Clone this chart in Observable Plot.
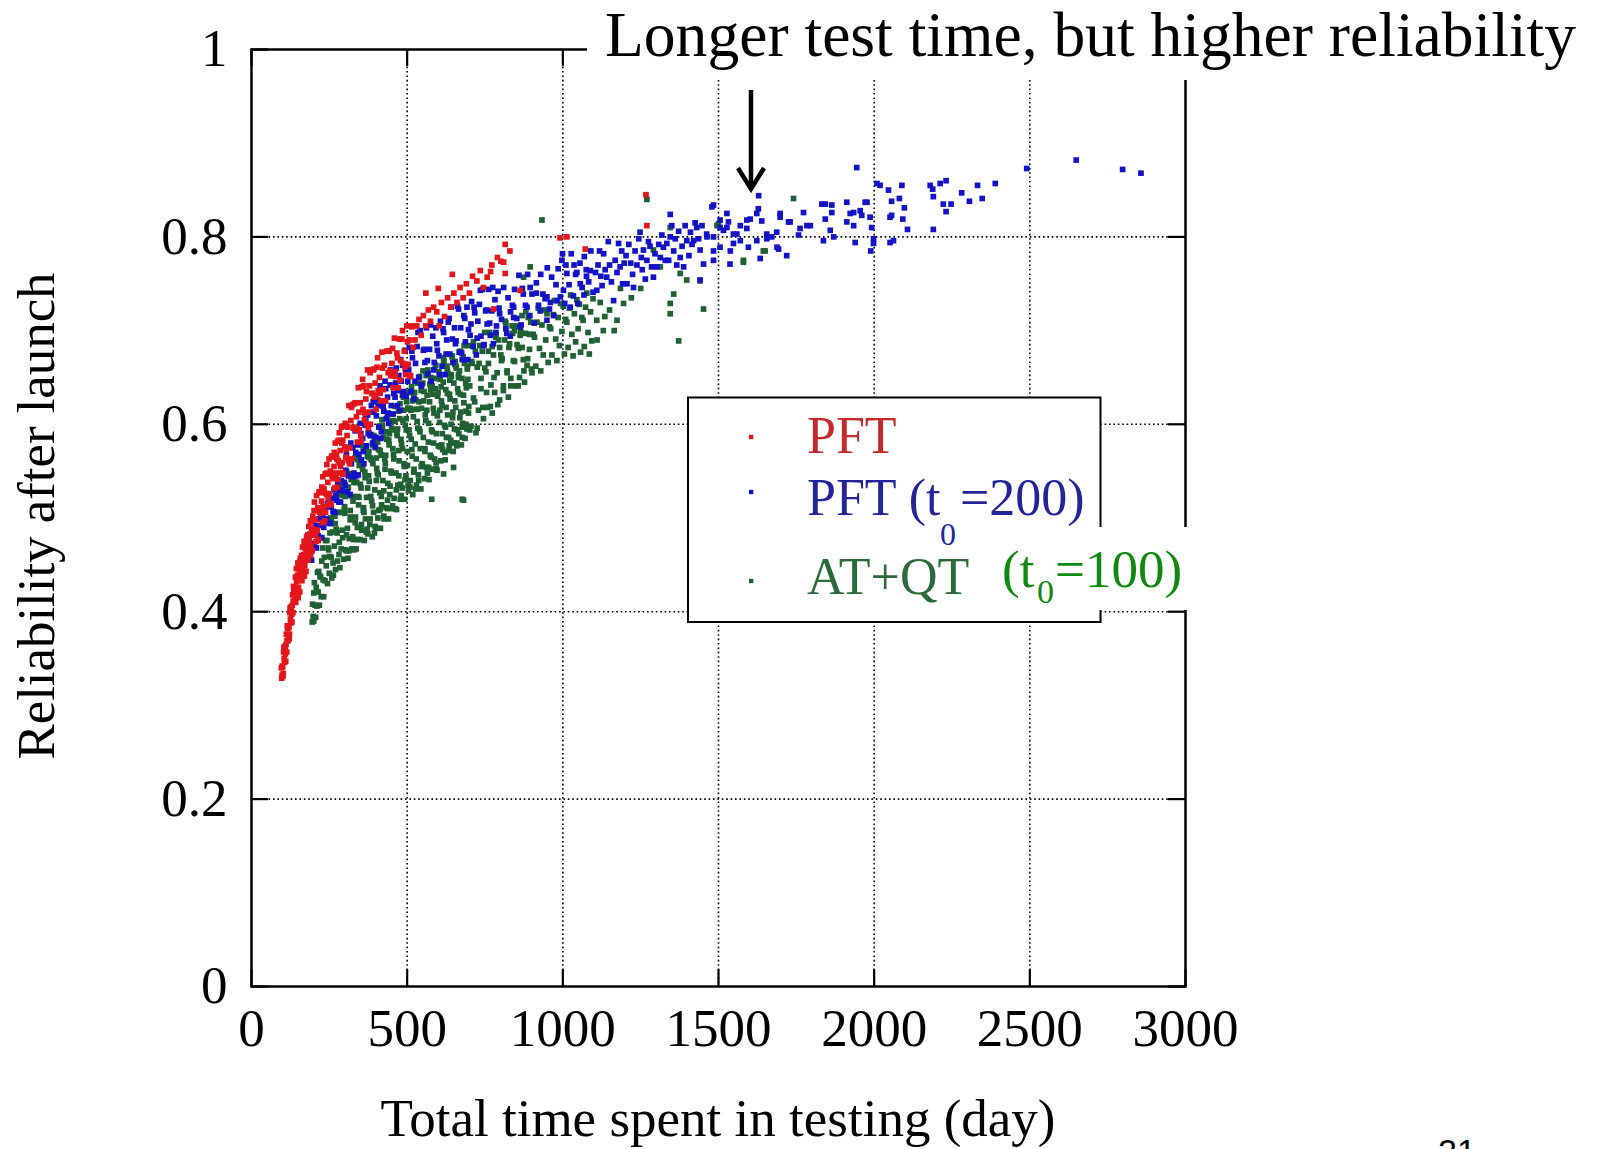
<!DOCTYPE html>
<html><head><meta charset="utf-8">
<script src="https://cdn.jsdelivr.net/npm/d3@7"></script>
<script src="https://cdn.jsdelivr.net/npm/@observablehq/plot@0.6"></script>
<style>
html,body{margin:0;padding:0;background:#fff;}
#wrap{position:relative;width:1602px;height:1149px;overflow:hidden;background:#fff;}
#wrap svg{position:absolute;left:0;top:0;}
</style></head><body><div id="wrap"></div>
<script>
const xTicks = [0, 500, 1000, 1500, 2000, 2500, 3000];
const yTicks = [0, 0.2, 0.4, 0.6, 0.8, 1];
const yTickLabels = ["0", "0.2", "0.4", "0.6", "0.8", "1"];
const seriesNames = ["PFT", "PFT (t0=200)", "AT+QT"];
const seriesColors = ["#e3161b", "#1414c6", "#1f6133"];

// PFT (red): flat list of time, reliability pairs
const pftPts = [
96,.340,98,.332,100,.341,102,.334,104,.362,106,.346,108,.361,110,.347,112,.376,114,.369,116,.382,118,.374,120,.383,122,.376,124,.404,126,.388,128,.403,130,.389,132,.418,134,.411,136,.424,138,.416,140,.425,
97,.329,99,.342,101,.331,103,.357,105,.350,107,.363,109,.355,111,.365,113,.357,115,.385,117,.369,119,.384,121,.371,123,.399,125,.392,127,.405,129,.397,131,.407,133,.399,135,.427,137,.411,139,.426,
141,.437,143,.421,145,.432,147,.416,149,.452,151,.426,153,.445,155,.421,157,.457,159,.444,161,.460,163,.444,165,.454,167,.438,169,.475,171,.449,173,.467,175,.443,177,.480,179,.466,181,.482,183,.466,185,.476,187,.461,189,.497,191,.471,193,.489,195,.465,197,.502,199,.488,
142,.410,144,.446,146,.421,148,.439,150,.415,152,.451,154,.438,156,.454,158,.438,160,.449,162,.433,164,.469,166,.443,168,.461,170,.438,172,.474,174,.460,176,.476,178,.460,180,.471,182,.455,184,.491,186,.465,188,.483,190,.460,192,.496,194,.482,196,.498,198,.482,
201,.508,203,.485,205,.498,207,.475,209,.524,211,.487,213,.511,215,.477,217,.527,219,.506,221,.528,223,.505,225,.518,227,.495,229,.544,231,.507,233,.531,235,.497,237,.547,239,.526,
241,.548,243,.525,245,.538,247,.514,249,.563,251,.526,253,.550,255,.515,257,.565,259,.544,261,.566,263,.542,265,.555,267,.532,269,.580,271,.543,273,.567,275,.533,277,.582,279,.561,
281,.583,283,.559,285,.572,287,.548,289,.597,291,.559,293,.583,295,.548,297,.598,299,.576,
202,.517,206,.482,210,.508,214,.476,218,.528,222,.509,226,.533,230,.512,234,.527,238,.506,242,.557,246,.521,250,.547,254,.514,258,.566,262,.547,266,.570,270,.548,274,.563,278,.541,282,.591,286,.555,290,.580,294,.547,298,.598,
301,.601,304,.573,307,.588,310,.562,313,.620,316,.575,319,.604,322,.563,325,.621,328,.597,331,.622,334,.594,337,.608,340,.581,343,.639,346,.594,349,.623,352,.582,355,.640,358,.616,
361,.641,364,.612,367,.627,370,.600,373,.658,376,.613,379,.641,382,.600,385,.658,388,.633,391,.658,394,.629,397,.644,400,.616,
303,.565,309,.597,315,.558,321,.618,327,.596,333,.623,339,.596,345,.613,351,.588,357,.648,363,.605,369,.635,375,.596,381,.655,387,.633,393,.659,399,.631,
403,.661,407,.636,411,.650,415,.625,419,.677,423,.637,427,.663,431,.625,435,.678,439,.655,443,.678,447,.652,451,.665,455,.639,459,.692,463,.651,467,.676,471,.639,475,.691,479,.668,
483,.691,487,.665,491,.678,495,.653,499,.705,503,.664,507,.690,511,.652,515,.704,519,.682,
405,.671,413,.633,421,.660,429,.625,437,.678,445,.657,453,.681,461,.656,469,.671,477,.647,485,.700,493,.661,501,.688,509,.651,517,.705,
525,.690,531,.705,538,.712,545,.695,552,.716,560,.705,568,.722,575,.710,585,.725,595,.720,603,.705,610,.730,620,.715,630,.735,640,.725,650,.740,660,.730,670,.746,680,.735,690,.750,700,.740,710,.758,724,.753,735,.764,745,.746,757,.757,768,.763,772,.770,777,.723,790,.778,801,.774,810,.773,815,.761,815,.792,830,.785,863,.743,991,.799,1013,.800,1072,.787,1267,.845,1270,.812,560,.740,600,.745,645,.760
];

// PFT (t0=200) (blue)
const pft200Pts = [
181,.456,184,.473,187,.455,190,.472,193,.455,196,.473,199,.482,202,.469,205,.492,208,.468,211,.486,214,.481,217,.499,220,.479,223,.492,226,.479,229,.501,232,.490,235,.508,238,.499,
241,.498,244,.515,247,.495,250,.512,253,.494,256,.512,259,.521,262,.507,265,.530,268,.506,271,.524,274,.519,277,.537,280,.517,283,.530,286,.517,289,.540,292,.529,295,.547,298,.538,
301,.535,305,.568,309,.528,313,.561,317,.525,321,.558,325,.575,329,.548,333,.593,337,.545,341,.578,345,.568,349,.601,353,.562,357,.585,361,.558,365,.599,369,.577,373,.610,377,.591,
381,.588,385,.620,389,.580,393,.613,397,.576,401,.609,405,.626,409,.597,413,.641,417,.592,421,.624,425,.614,429,.646,433,.606,437,.629,441,.601,445,.642,449,.620,453,.652,457,.633,
461,.629,465,.660,469,.620,473,.652,477,.615,481,.646,485,.663,489,.635,493,.679,497,.630,
303,.551,311,.545,319,.580,327,.544,335,.570,343,.546,351,.590,359,.571,367,.606,375,.590,383,.589,391,.624,399,.586,407,.620,415,.585,423,.619,431,.638,439,.612,447,.658,455,.611,463,.644,471,.636,479,.669,487,.631,495,.656,
502,.646,507,.682,512,.635,517,.671,522,.627,527,.665,532,.683,537,.650,542,.700,547,.642,552,.679,557,.666,562,.703,567,.654,572,.680,577,.646,582,.694,587,.666,592,.703,597,.679,
602,.673,607,.710,612,.662,617,.698,622,.653,627,.690,632,.709,637,.675,642,.725,647,.666,652,.703,657,.689,662,.726,667,.677,672,.703,677,.669,682,.716,687,.688,692,.725,697,.701,
702,.695,707,.731,712,.683,717,.719,722,.674,727,.710,732,.728,737,.694,742,.744,747,.685,752,.721,757,.707,762,.744,767,.695,772,.721,777,.686,782,.733,787,.705,792,.742,797,.718,
505,.658,515,.678,525,.646,535,.698,545,.641,555,.680,565,.668,575,.706,585,.658,595,.686,605,.653,615,.702,625,.675,635,.713,645,.691,655,.686,665,.723,675,.676,685,.713,695,.669,
705,.707,715,.725,725,.692,735,.743,745,.684,755,.722,765,.708,775,.746,785,.698,795,.724,
803,.712,810,.746,817,.702,824,.735,831,.694,838,.727,845,.744,852,.713,859,.759,866,.706,873,.739,880,.727,887,.760,894,.716,901,.739,908,.708,915,.751,922,.727,929,.760,936,.739,
943,.734,950,.767,957,.723,964,.757,971,.716,978,.749,985,.766,992,.736,999,.782,1006,.729,1013,.761,1020,.749,1027,.782,1034,.737,1041,.760,1048,.729,1055,.772,1062,.746,1069,.779,1076,.758,
1083,.752,1090,.785,1097,.741,
820,.697,842,.714,842,.725,863,.704,885,.725,895,.746,927,.721,949,.736,949,.711,981,.732,997,.775,1002,.743,1024,.725,1045,.762,1056,.750,1068,.738,1088,.764,1036,.770,1075,.765,832,.720,870,.745,915,.740,960,.730,1010,.770,
1105,.762,1109,.743,1113,.770,1118,.785,1122,.758,1126,.748,1131,.782,1136,.765,1141,.757,1146,.795,1150,.770,1156,.752,1163,.732,1168,.775,1174,.762,1179,.793,1184,.768,1189,.785,1192,.750,1197,.772,
1203,.780,1206,.750,1212,.792,1218,.772,1224,.760,1227,.746,1232,.785,1238,.770,1244,.798,1248,.805,1252,.778,1255,.765,1259,.786,1265,.755,1270,.775,1275,.795,1280,.790,1285,.768,1291,.757,1296,.782,1302,.768,1308,.792,1313,.778,1318,.802,1323,.789,1329,.775,1334,.793,1340,.775,1345,.824,1345,.800,1350,.812,1356,.785,1361,.798,1366,.770,1372,.806,1377,.778,1383,.790,1388,.768,1393,.812,1398,.796,1405,.780,1410,.805,1415,.792,1420,.796,1425,.815,1430,.810,1436,.798,1441,.786,1441,.754,1447,.812,1452,.771,
1462,.803,1463,.800,1479,.832,1484,.800,1484,.775,1484,.785,1484,.834,1505,.818,1505,.810,1505,.789,1516,.807,1527,.810,1527,.825,1532,.816,1537,.771,1538,.785,1548,.793,1548,.803,1559,.803,1570,.796,1570,.812,1591,.818,1591,.809,1596,.789,1602,.819,1623,.825,1623,.796,1628,.830,1629,.844,1634,.777,1639,.817,1655,.798,1655,.803,1671,.800,1687,.805,1688,.789,1693,.787,1698,.825,1698,.821,1719,.780,1725,.816,1730,.816,1757,.802,1762,.809,1773,.826,1784,.812,1795,.812,1832,.835,1837,.796,1843,.835,1843,.819,1859,.807,1864,.834,1864,.826,1870,.800,1912,.837,1912,.816,1923,.825,1934,.826,1934,.812,1939,.794,1944,.874,1955,.828,1960,.823,1971,.837,1977,.837,1987,.821,1989,.785,1992,.810,1998,.798,1998,.793,2009,.857,2019,.855,2046,.850,2051,.821,2051,.794,2056,.838,2056,.823,2062,.796,2081,.841,2089,.855,2092,.819,2097,.831,2107,.808,2180,.855,2188,.851,2190,.843,2190,.808,2212,.857,2222,.835,2231,.860,2231,.827,2247,.835,2281,.847,2306,.838,2332,.855,2347,.841,2389,.857,2490,.873,2649,.882,2798,.872,2857,.868
];

// AT+QT (green)
const atqtPts = [
195,.389,200,.390,196,.408,198,.395,200,.420,202,.431,204,.407,206,.394,208,.426,210,.406,212,.442,214,.421,216,.443,218,.407,220,.438,222,.437,224,.416,226,.454,228,.468,230,.434,232,.416,234,.458,236,.433,238,.476,240,.449,242,.476,244,.430,246,.468,248,.466,
250,.441,252,.484,254,.500,256,.458,258,.436,260,.485,262,.452,264,.504,266,.470,268,.502,270,.445,272,.488,274,.486,276,.454,278,.506,280,.525,282,.474,284,.447,286,.506,288,.467,290,.528,292,.487,294,.524,296,.456,298,.509,
300,.505,302,.466,304,.527,306,.549,308,.489,310,.457,312,.524,314,.478,316,.547,318,.501,320,.541,322,.467,324,.523,326,.518,328,.477,330,.542,332,.564,334,.501,336,.467,338,.538,340,.490,342,.562,344,.514,346,.556,348,.477,
350,.536,352,.532,354,.487,356,.555,358,.577,360,.511,362,.476,364,.549,366,.499,368,.573,370,.522,372,.566,374,.483,376,.545,378,.539,380,.493,382,.564,384,.588,386,.518,388,.480,390,.558,392,.506,394,.583,396,.530,398,.575,
400,.489,402,.553,404,.548,406,.500,408,.573,410,.598,412,.527,414,.489,416,.567,418,.514,420,.593,422,.540,424,.586,426,.499,428,.563,430,.558,432,.511,434,.584,436,.608,438,.537,440,.499,442,.578,444,.525,446,.603,448,.550,
450,.596,452,.510,454,.574,456,.568,458,.521,460,.594,462,.619,464,.548,466,.509,468,.588,470,.535,472,.614,474,.561,476,.606,478,.520,480,.584,482,.579,484,.532,486,.604,488,.629,490,.558,492,.520,494,.599,496,.545,498,.624,
500,.571,502,.617,504,.529,506,.594,508,.588,510,.540,512,.615,514,.640,516,.566,518,.525,520,.608,522,.552,524,.634,526,.579,528,.626,530,.535,532,.603,534,.596,536,.546,538,.624,540,.651,542,.574,544,.531,546,.617,548,.558,
550,.644,552,.586,554,.635,556,.542,558,.610,560,.604,562,.554,564,.631,566,.658,568,.581,570,.541,572,.624,574,.567,576,.650,578,.594,580,.641,582,.552,584,.617,586,.612,588,.563,590,.638,592,.663,594,.590,596,.551,598,.630,
600,.577,602,.656,604,.602,606,.648,608,.561,610,.625,612,.620,614,.573,616,.645,618,.668,620,.599,622,.562,624,.637,626,.586,628,.662,630,.610,632,.654,634,.572,636,.632,638,.627,640,.583,642,.651,644,.673,646,.607,648,.571,
650,.644,652,.595,654,.667,656,.618,658,.660,660,.580,662,.638,664,.634,666,.590,668,.657,670,.678,672,.613,674,.578,676,.649,678,.601,680,.672,682,.623,684,.665,686,.585,688,.644,690,.639,692,.595,694,.662,696,.684,698,.619,
301,.523,305,.482,309,.547,313,.465,317,.508,321,.544,325,.480,329,.538,333,.495,337,.564,341,.477,345,.522,349,.560,353,.493,357,.552,361,.506,365,.577,369,.485,373,.532,377,.571,
381,.499,385,.562,389,.513,393,.588,397,.491,401,.540,405,.581,409,.508,413,.572,417,.523,421,.599,425,.502,429,.552,433,.592,437,.519,441,.583,445,.534,449,.611,453,.513,457,.563,
461,.603,465,.530,469,.595,473,.545,477,.622,481,.524,485,.574,489,.615,493,.541,497,.606,501,.556,505,.634,509,.533,513,.584,517,.625,521,.549,525,.616,529,.563,533,.644,537,.540,
541,.592,545,.636,549,.556,553,.625,557,.571,561,.652,565,.548,569,.601,573,.643,577,.565,581,.632,585,.580,589,.659,593,.559,597,.609,601,.649,605,.576,609,.640,613,.590,617,.665,
621,.570,625,.618,629,.657,633,.586,637,.647,641,.600,645,.672,649,.580,653,.625,657,.662,661,.594,665,.653,669,.607,673,.677,677,.586,681,.631,685,.668,689,.600,693,.659,697,.612,
251,.459,257,.496,263,.439,269,.494,275,.484,281,.461,287,.534,293,.479,299,.512,305,.465,311,.533,317,.498,323,.547,329,.466,335,.538,341,.523,347,.490,353,.578,359,.508,365,.543,
371,.488,377,.565,383,.523,389,.578,395,.484,401,.564,407,.546,413,.509,419,.605,425,.529,431,.567,437,.510,443,.590,449,.548,455,.604,461,.510,467,.591,473,.572,479,.536,485,.631,
491,.555,497,.594,503,.535,509,.617,515,.573,521,.631,527,.531,533,.616,539,.595,545,.555,551,.657,557,.574,563,.615,569,.554,575,.637,581,.592,587,.649,593,.553,599,.634,605,.615,
611,.578,617,.671,623,.597,629,.633,635,.577,641,.653,647,.613,653,.664,659,.577,665,.650,671,.632,677,.597,683,.684,689,.614,695,.648,701,.594,707,.667,713,.628,719,.678,725,.596,
731,.665,737,.649,743,.618,749,.698,755,.634,761,.665,767,.619,773,.683,779,.650,785,.693,791,.621,797,.682,803,.668,809,.641,815,.710,821,.655,827,.682,833,.641,839,.697,845,.667,
851,.705,857,.641,863,.695,869,.682,875,.657,881,.720,887,.670,893,.696,899,.659,
701,.641,705,.598,709,.665,713,.688,717,.624,721,.591,725,.661,729,.615,733,.684,737,.638,741,.678,745,.606,749,.660,753,.656,757,.618,761,.678,765,.698,769,.642,773,.612,777,.674,
781,.634,785,.696,789,.655,793,.690,797,.626,801,.674,805,.670,809,.636,813,.690,817,.708,821,.657,825,.629,829,.686,833,.649,837,.705,841,.668,845,.700,849,.641,853,.685,857,.681,
861,.650,865,.699,869,.716,873,.669,877,.645,881,.697,885,.663,889,.714,893,.680,897,.709,901,.655,905,.696,909,.693,913,.662,917,.709,921,.724,925,.681,929,.657,933,.706,937,.674,
941,.722,945,.690,949,.718,953,.666,957,.704,961,.702,965,.674,969,.717,973,.732,977,.691,981,.668,985,.714,989,.684,993,.729,997,.699,1001,.726,1005,.675,1009,.712,1013,.709,1017,.682,
1021,.724,1025,.738,1029,.696,1033,.673,1037,.718,1041,.688,1045,.733,1049,.702,1053,.728,1057,.677,1061,.714,1065,.711,1069,.683,1073,.725,1077,.740,1081,.698,1085,.675,1089,.720,1093,.689,1097,.734,
677,.520,681,.519,649,.554,617,.547,579,.520,874,.757,895,.768,933,.818,1109,.711,1110,.690,1120,.730,1130,.700,1135,.715,1150,.722,1165,.700,1174,.711,1185,.745,1195,.729,1220,.735,1250,.745,1270,.840,1291,.786,1313,.768,1345,.810,1345,.729,1345,.718,1356,.739,1372,.689,1377,.761,1398,.754,1441,.753,1452,.723,1495,.812,1500,.814,1580,.775,1580,.773,1644,.785,1650,.785,1741,.841
];

function toRows(flat) {
  const out = [];
  for (let i = 0; i < flat.length; i += 2) out.push({x: flat[i], y: flat[i + 1]});
  return out;
}
const pftRows = toRows(pftPts);
const pft200Rows = toRows(pft200Pts);
const atqtRows = toRows(atqtPts);

const dotOpts = (c) => ({x: "x", y: "y", symbol: "square", r: 3.2, fill: c, stroke: "none"});
const grid = {stroke: "#000", strokeWidth: 1.6, strokeDasharray: "1.6,2.8"};
const tick = {stroke: "#000", strokeWidth: 2.2};

const chart = Plot.plot({
  width: 1602, height: 1149,
  marginLeft: 251, marginRight: 417, marginTop: 49, marginBottom: 163,
  style: {fontFamily: "'Liberation Serif', 'Times New Roman', serif", fontSize: "53px", color: "#000", background: "transparent", overflow: "visible"},
  x: {domain: [0, 3000], ticks: xTicks, tickSize: 0, tickPadding: 22, tickFormat: d => String(d), label: null},
  y: {domain: [0, 1], ticks: yTicks, tickSize: 0, tickPadding: 24, tickFormat: d => yTickLabels[yTicks.indexOf(d)], label: null},
  marks: [
    Plot.ruleX(xTicks.slice(1, -1), {x: d => d, ...grid}),
    Plot.ruleY(yTicks.slice(1, -1), {y: d => d, ...grid}),
    Plot.ruleX(xTicks, {x: d => d, y1: 0, y2: 0.018, ...tick}),
    Plot.ruleX(xTicks, {x: d => d, y1: 0.982, y2: 1, ...tick}),
    Plot.ruleY(yTicks, {y: d => d, x1: 0, x2: 55, ...tick}),
    Plot.ruleY(yTicks, {y: d => d, x1: 2945, x2: 3000, ...tick}),
    Plot.dot(atqtRows, dotOpts(seriesColors[2])),
    Plot.dot(pft200Rows, dotOpts(seriesColors[1])),
    Plot.dot(pftRows, dotOpts(seriesColors[0])),
    Plot.frame({stroke: "#000", strokeWidth: 2.5})
  ]
});
const wrap = document.getElementById("wrap");
wrap.appendChild(chart);

// Annotation overlay (title, arrow, axis titles, legend)
const ov = d3.select(wrap).append("svg")
  .attr("width", 1602).attr("height", 1149)
  .style("font-family", "'Liberation Serif', 'Times New Roman', serif");

ov.append("rect").attr("x", 587).attr("y", 0).attr("width", 1015).attr("height", 80).attr("fill", "#fff");
ov.append("text").attr("x", 605).attr("y", 56).attr("font-size", 64)
  .attr("textLength", 971).attr("lengthAdjust", "spacingAndGlyphs")
  .text("Longer test time, but higher reliability");
ov.append("line").attr("x1", 751).attr("x2", 751).attr("y1", 90).attr("y2", 187)
  .attr("stroke", "#000").attr("stroke-width", 4.5);
ov.append("polyline").attr("points", "738,168 751,189 764,168")
  .attr("fill", "none").attr("stroke", "#000").attr("stroke-width", 4.5);

ov.append("text").attr("transform", "translate(54,516) rotate(-90)")
  .attr("text-anchor", "middle").attr("font-size", 53)
  .attr("textLength", 487).attr("lengthAdjust", "spacingAndGlyphs")
  .text("Reliability after launch");
ov.append("text").attr("x", 718).attr("y", 1136)
  .attr("text-anchor", "middle").attr("font-size", 53)
  .attr("textLength", 675).attr("lengthAdjust", "spacingAndGlyphs")
  .text("Total time spent in testing (day)");

// legend
ov.append("rect").attr("x", 688).attr("y", 397.5).attr("width", 412.5).attr("height", 224.5)
  .attr("fill", "#fff").attr("stroke", "#000").attr("stroke-width", 2);
const legY = [437, 492, 581];
legY.forEach((y, i) => {
  ov.append("rect").attr("x", 749).attr("y", y - 2.2).attr("width", 4.4).attr("height", 4.4).attr("fill", seriesColors[i]);
});
ov.append("text").attr("x", 807).attr("y", 453).attr("font-size", 52).attr("fill", "#c42a2c").text("PFT");
ov.append("text").attr("x", 807).attr("y", 515).attr("font-size", 52).attr("fill", "#24249a").text("PFT (t");
ov.append("text").attr("x", 940).attr("y", 545).attr("font-size", 32).attr("fill", "#24249a").text("0");
ov.append("text").attr("x", 960).attr("y", 515).attr("font-size", 52).attr("fill", "#24249a").text("=200)");
ov.append("text").attr("x", 807).attr("y", 594).attr("font-size", 52).attr("fill", "#2a6b39").text("AT+QT");

ov.append("rect").attr("x", 993).attr("y", 527).attr("width", 205).attr("height", 83).attr("fill", "#fff");
ov.append("text").attr("x", 1002).attr("y", 587).attr("font-size", 53).attr("fill", "#0f8a0f").text("(t");
ov.append("text").attr("x", 1037).attr("y", 603).attr("font-size", 34).attr("fill", "#0f8a0f").text("0");
ov.append("text").attr("x", 1055).attr("y", 587).attr("font-size", 53).attr("fill", "#0f8a0f").text("=100)");

ov.append("text").attr("x", 1438).attr("y", 1163).attr("font-size", 34)
  .attr("font-family", "'Liberation Sans', Arial, sans-serif").text("21");
</script>
</body></html>
